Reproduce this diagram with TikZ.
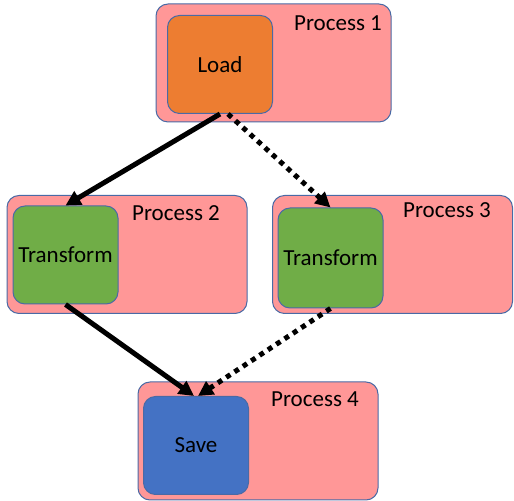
\documentclass[tikz,border=0pt]{standalone}
\usepackage{fontspec}
\setmainfont{Carlito}
\usetikzlibrary{arrows.meta}

\begin{document}
\begin{tikzpicture}[x=0.5pt, y=-0.5pt,
    proc/.style={rectangle, rounded corners=6pt, draw=edgeblue, line width=0.5pt, fill=procpink, minimum width=120pt, minimum height=59pt, inner sep=0pt},
    task/.style={rectangle, rounded corners=6pt, draw=edgeblue, line width=0.5pt, minimum width=52.5pt, minimum height=49pt, inner sep=0pt, font=\fontsize{11.5}{13}\selectfont},
    plabel/.style={inner sep=0pt, font=\fontsize{11.5}{13}\selectfont},
    flow/.style={line width=2.5pt, -{Triangle[length=7.5pt,width=7.5pt]}},
    maybe/.style={flow, dash pattern=on 2.5pt off 2.5pt}]
    \definecolor{procpink}{HTML}{FF9797}
    \definecolor{edgeblue}{HTML}{4A6AA5}
    \definecolor{loadorange}{HTML}{ED7D31}
    \definecolor{transgreen}{HTML}{70AD47}
    \definecolor{saveblue}{HTML}{4472C4}
    \useasboundingbox (0,0) rectangle (514,501);

    % Process containers
    \node[proc, minimum width=117.5pt] (P1) at (273.5,63) {};
    \node[proc] (P2) at (127,254.5) {};
    \node[proc] (P3) at (392.5,254.5) {};
    \node[proc] (P4) at (258,441) {};

    \node[plabel] (L1) at (338,23) {Process 1};
    \node[plabel] (L2) at (176,213) {Process 2};
    \node[plabel] (L3) at (447,210) {Process 3};
    \node[plabel] (L4) at (315,399) {Process 4};

    % Steps inside the processes
    \node[task, fill=loadorange] (Load) at (220,64.5) {Load};
    \node[task, fill=transgreen] (T2) at (65.5,255) {Transform};
    \node[task, fill=transgreen, minimum height=50pt] (T3) at (330.5,258) {Transform};
    \node[task, fill=saveblue] (Save) at (196,445.5) {Save};

    % Data flow
    \draw[flow] (Load.south) -- (T2.north);
    \draw[maybe] ([xshift=4pt]Load.south) -- (T3.north);
    \draw[flow] (T2.south) -- ([xshift=-1pt]Save.north);
    \draw[maybe] (T3.south) -- ([xshift=1pt]Save.north);
\end{tikzpicture}
\end{document}
